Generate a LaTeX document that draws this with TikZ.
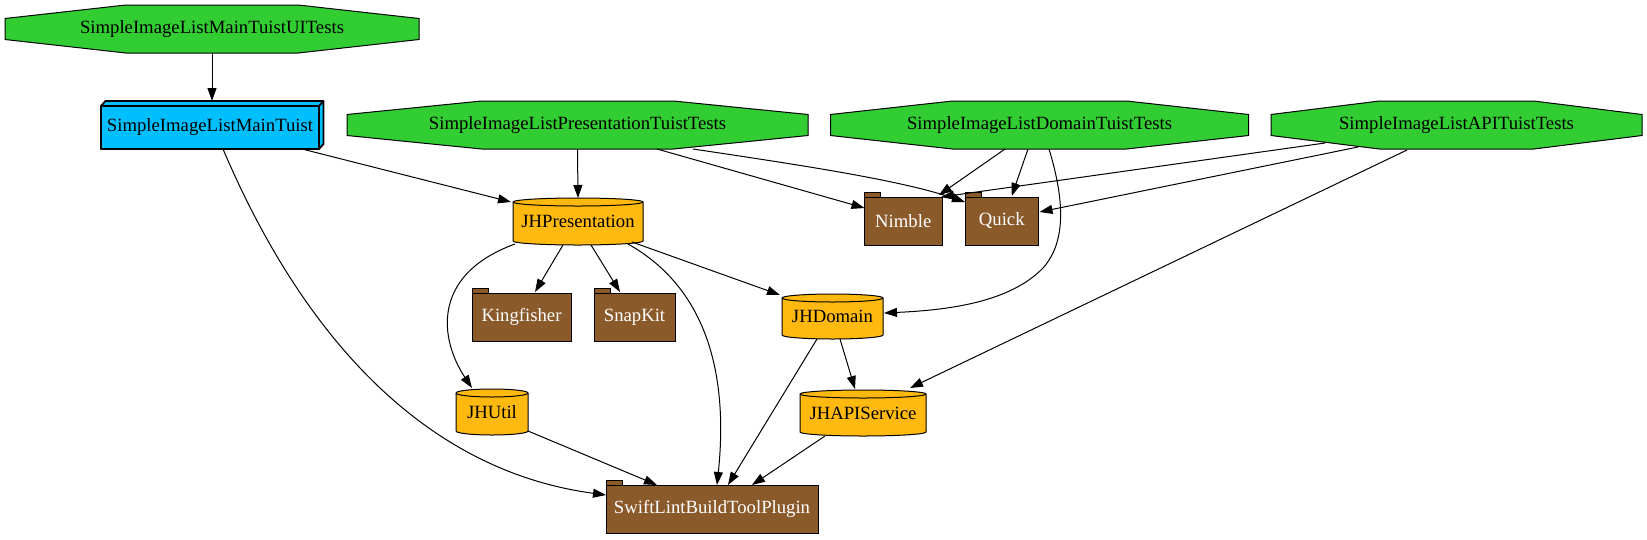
\documentclass[tikz,border=0pt]{standalone}
\usepackage{fontspec}
\setmainfont{Liberation Serif}
\usetikzlibrary{arrows.meta,calc,backgrounds}
\definecolor{tgreen}{HTML}{32CD32}
\definecolor{tblue}{HTML}{00BFFF}
\definecolor{torange}{HTML}{FFB90F}
\definecolor{tbrown}{HTML}{8B5A2B}
\newcommand\octo[1]{\filldraw[octost] ($(#1.north west)!0.281!(#1.south west)$) -- ($(#1.north west)!0.292!(#1.north east)$) -- ($(#1.north west)!0.708!(#1.north east)$) -- ($(#1.north east)!0.281!(#1.south east)$) -- ($(#1.north east)!0.719!(#1.south east)$) -- ($(#1.south west)!0.708!(#1.south east)$) -- ($(#1.south west)!0.292!(#1.south east)$) -- ($(#1.north west)!0.719!(#1.south west)$) -- cycle;}
\newcommand\cyl[2]{\filldraw[cylst] ([yshift=-4pt]#1.north west) -- ([yshift=4pt]#1.south west) arc[start angle=180,end angle=360,x radius=#2pt,y radius=4pt] -- ([yshift=-4pt]#1.north east) arc[start angle=0,end angle=180,x radius=#2pt,y radius=4pt] -- cycle;
\draw[shapeline] ([yshift=-4pt]#1.north west) arc[start angle=180,end angle=360,x radius=#2pt,y radius=4pt];}
\newcommand\tabbox[1]{\filldraw[tabst] ([yshift=5pt]#1.north west) rectangle ([xshift=16pt]#1.north west);
\filldraw[tabst] (#1.north west) rectangle (#1.south east);}
\begin{document}
\begin{tikzpicture}[x=1pt,y=-1pt,
  lbl/.style={inner sep=0pt, outer sep=0pt, font=\fontsize{18.7pt}{22pt}\selectfont},
  lblw/.style={lbl, text=white},
  shapeline/.style={draw=black, line width=1pt},
  octost/.style={shapeline, fill=tgreen},
  cylst/.style={shapeline, fill=torange},
  tabst/.style={shapeline, fill=tbrown},
  boxst/.style={draw=black, line width=1.8pt, fill=tblue, line join=round},
  edge/.style={draw=black, line width=1pt, -{Triangle[length=13pt,width=9pt]}}
]
\useasboundingbox (0,0) rectangle (1647,539);
% nodes
\node[lbl, minimum width=414pt, minimum height=48pt] (uit) at (212,29) {SimpleImageListMainTuistUITests};
\node[lbl, minimum width=218pt, minimum height=43pt] (main) at (210,127.5) {SimpleImageListMainTuist};
\node[lbl, minimum width=461pt, minimum height=48pt] (prest) at (577.5,125) {SimpleImageListPresentationTuistTests};
\node[lbl, minimum width=418pt, minimum height=48pt] (domt) at (1039.5,125) {SimpleImageListDomainTuistTests};
\node[lbl, minimum width=371pt, minimum height=48pt] (apit) at (1456.5,125) {SimpleImageListAPITuistTests};
\node[lbl, minimum width=130pt, minimum height=47pt] (pres) at (578,221.5) {JHPresentation};
\node[lblw, minimum width=77.5pt, minimum height=48pt] (nimble) at (903.25,221) {Nimble};
\node[lblw, minimum width=73.5pt, minimum height=48pt] (quick) at (1001.75,221) {Quick};
\node[lblw, minimum width=99pt, minimum height=48pt] (king) at (521.5,317) {Kingfisher};
\node[lblw, minimum width=81pt, minimum height=48pt] (snap) at (634.5,317) {SnapKit};
\node[lbl, minimum width=101pt, minimum height=45pt] (jhdomain) at (832.5,316.5) {JHDomain};
\node[lbl, minimum width=72pt, minimum height=46pt] (jhutil) at (492,412) {JHUtil};
\node[lbl, minimum width=126pt, minimum height=46pt] (jhapi) at (863,413) {JHAPIService};
\node[lblw, minimum width=212pt, minimum height=48pt] (swift) at (712,509) {SwiftLintBuildToolPlugin};
% shapes
\begin{pgfonlayer}{background}
\octo{uit}\octo{prest}\octo{domt}\octo{apit}
\filldraw[boxst] (main.north west) -- ([shift={(4.5pt,5pt)}]main.north west) -- ([shift={(4.5pt,5pt)}]main.north east) -- ([shift={(4.5pt,5pt)}]main.south east) -- (main.south east) -- (main.south west) -- cycle;
\draw[boxst, fill=none] (main.north west) rectangle (main.south east);
\draw[boxst, fill=none] (main.north east) -- ([shift={(4.5pt,5pt)}]main.north east);
\cyl{pres}{65}\cyl{jhdomain}{50.5}\cyl{jhutil}{36}\cyl{jhapi}{63}
\tabbox{nimble}\tabbox{quick}\tabbox{king}\tabbox{snap}\tabbox{swift}
\end{pgfonlayer}
% edges
\draw[edge] (uit.south) -- ([shift={(2,-5)}]main.north);
\draw[edge] ([shift={(92,0)}]main.south) -- ([shift={(-2,4)}]pres.north west);
\draw[edge] ([shift={(13,0)}]main.south) .. controls (300,330) and (420,470) .. ([shift={(0,-14)}]swift.west);
\draw[edge] (prest.south) -- (pres.north);
\draw[edge] ([shift={(79.5,0)}]prest.south) -- ([shift={(0,-13)}]nimble.west);
\draw[edge] ([shift={(115.5,0)}]prest.south) .. controls (800,165) and (900,180) .. ([shift={(0,5)}]quick.north west);
\draw[edge] ([shift={(-34.5,0)}]domt.south) -- ([shift={(-3,-2)}]nimble.north east);
\draw[edge] ([shift={(-11.5,0)}]domt.south) -- ([shift={(10,-1)}]quick.north);
\draw[edge] ([shift={(9.5,0)}]domt.south) .. controls (1063,195) and (1068,240) .. (1043,268) .. controls (1010,302) and (950,310) .. ([shift={(1,-3.5)}]jhdomain.east);
\draw[edge] ([shift={(-131.5,-6)}]apit.south) -- ([shift={(-1,0)}]nimble.north east);
\draw[edge] ([shift={(-98.5,-2)}]apit.south) -- ([shift={(1,-9)}]quick.east);
\draw[edge] ([shift={(-49.5,1)}]apit.south) -- ([shift={(-16,-2)}]jhapi.north east);
\draw[edge] ([shift={(-15,0)}]pres.south) -- ([shift={(13.5,-1)}]king.north);
\draw[edge] ([shift={(13,0)}]pres.south) -- ([shift={(-14.5,-1)}]snap.north);
\draw[edge] ([shift={(2,-1)}]pres.south west) .. controls (430,275) and (440,340) .. ([shift={(-20,-1)}]jhutil.north);
\draw[edge] ([shift={(-11,-3)}]pres.south east) -- ([shift={(-2,1)}]jhdomain.north west);
\draw[edge] ([shift={(-15,-1)}]pres.south east) .. controls (710,290) and (728,380) .. ([shift={(5,0)}]swift.north);
\draw[edge] ([shift={(0,-4)}]jhutil.south east) -- ([shift={(-55,0)}]swift.north);
\draw[edge] ([shift={(-15.5,0)}]jhdomain.south) -- ([shift={(16,0)}]swift.north);
\draw[edge] ([shift={(7.5,0)}]jhdomain.south) -- ([shift={(-8,-1)}]jhapi.north);
\draw[edge] ([shift={(-38,0)}]jhapi.south) -- ([shift={(40,0)}]swift.north);
\end{tikzpicture}
\end{document}
